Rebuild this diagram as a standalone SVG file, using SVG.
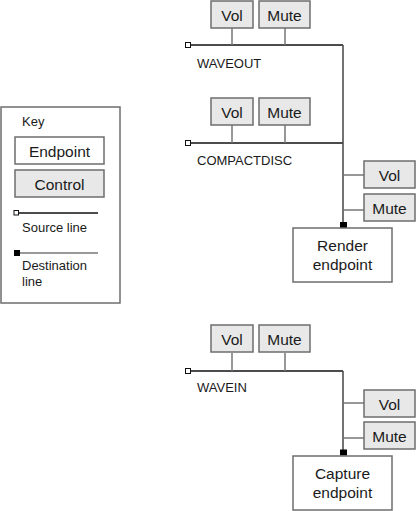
<svg xmlns="http://www.w3.org/2000/svg" width="416" height="511" viewBox="0 0 416 511">
<style>
.box{fill:#fff;stroke:#6e6e6e;stroke-width:1.5}
.ctl{fill:#e8e8e8;stroke:#6e6e6e;stroke-width:1.5}
.t{font-family:"Liberation Sans",Arial,sans-serif;font-size:15.5px;fill:#1a1a1a;text-anchor:middle}
.lbl{font-family:"Liberation Sans",Arial,sans-serif;font-size:13px;fill:#1a1a1a}
.src{stroke:#111;stroke-width:1.3;fill:none}
.stub{stroke:#777;stroke-width:1.5;fill:none}
.dst{stroke:#444;stroke-width:1.5;fill:none}
.sq{fill:#fff;stroke:#111;stroke-width:1}
.dsq{fill:#000}
</style>
<rect width="416" height="511" fill="#fff"/>
<g id="connectors">
  <!-- WAVEOUT -->
  <path class="src" d="M190.5 45H343"/>
  <rect class="sq" x="185.5" y="42.5" width="5" height="5"/>
  <path class="stub" d="M232 28V45M285 28V45"/>
  <!-- COMPACTDISC -->
  <path class="src" d="M190.5 143H343"/>
  <rect class="sq" x="185.5" y="140.5" width="5" height="5"/>
  <path class="stub" d="M232 125V143M285 125V143"/>
  <path class="dst" d="M343 45V223"/>
  <path class="stub" d="M343 175H364M343 210H364"/>
  <rect class="dsq" x="340" y="222" width="7" height="6"/>
  <!-- WAVEIN -->
  <path class="src" d="M190.5 371H343"/>
  <rect class="sq" x="185.5" y="368.5" width="5" height="5"/>
  <path class="stub" d="M232 353V371M285 353V371"/>
  <path class="dst" d="M343 371V450"/>
  <path class="stub" d="M343 403H364M343 438H364"/>
  <rect class="dsq" x="340" y="449.5" width="7" height="6"/>
</g>
<g id="waveout-vol"><rect class="ctl" x="211" y="1" width="42" height="27"/><text class="t" x="232" y="20.5">Vol</text></g>
<g id="waveout-mute"><rect class="ctl" x="259" y="1" width="51" height="27"/><text class="t" x="284.5" y="20.5">Mute</text></g>
<g id="waveout"><text class="lbl" x="197" y="68">WAVEOUT</text></g>
<g id="cd-vol"><rect class="ctl" x="211" y="98" width="42" height="27"/><text class="t" x="232" y="117.5">Vol</text></g>
<g id="cd-mute"><rect class="ctl" x="259" y="98" width="51" height="27"/><text class="t" x="284.5" y="117.5">Mute</text></g>
<g id="compactdisc"><text class="lbl" x="197" y="165">COMPACTDISC</text></g>
<g id="render-vol"><rect class="ctl" x="364" y="161" width="51" height="27"/><text class="t" x="389.5" y="180.5">Vol</text></g>
<g id="render-mute"><rect class="ctl" x="364" y="194" width="51" height="27"/><text class="t" x="389.5" y="213.5">Mute</text></g>
<g id="render-endpoint"><rect class="box" x="293" y="228" width="99" height="54"/><text class="t" x="342.5" y="251">Render</text><text class="t" x="342.5" y="269.5">endpoint</text></g>
<g id="wavein-vol"><rect class="ctl" x="211" y="325" width="42" height="27"/><text class="t" x="232" y="344.5">Vol</text></g>
<g id="wavein-mute"><rect class="ctl" x="259" y="325" width="51" height="27"/><text class="t" x="284.5" y="344.5">Mute</text></g>
<g id="wavein"><text class="lbl" x="197" y="392">WAVEIN</text></g>
<g id="capture-vol"><rect class="ctl" x="364" y="390" width="51" height="27"/><text class="t" x="389.5" y="409.5">Vol</text></g>
<g id="capture-mute"><rect class="ctl" x="364" y="422" width="51" height="27"/><text class="t" x="389.5" y="441.5">Mute</text></g>
<g id="capture-endpoint"><rect class="box" x="293" y="456" width="99" height="54"/><text class="t" x="342.5" y="479">Capture</text><text class="t" x="342.5" y="497.5">endpoint</text></g>
<g id="key">
  <rect class="box" x="1" y="107" width="119" height="196"/>
  <text class="lbl" x="22" y="126">Key</text>
  <rect class="box" x="15" y="137" width="89" height="27"/><text class="t" x="59.5" y="156.5">Endpoint</text>
  <rect class="ctl" x="15" y="170" width="89" height="27"/><text class="t" x="59.5" y="189.5">Control</text>
  <path class="src" d="M18.5 213H98"/>
  <rect class="sq" x="14" y="210.5" width="4.5" height="4.5"/>
  <text class="lbl" x="22" y="232">Source line</text>
  <path class="stub" d="M20 253H98"/>
  <rect class="dsq" x="14" y="250" width="6" height="6"/>
  <text class="lbl" x="22" y="270">Destination</text>
  <text class="lbl" x="22" y="286">line</text>
</g>
</svg>
